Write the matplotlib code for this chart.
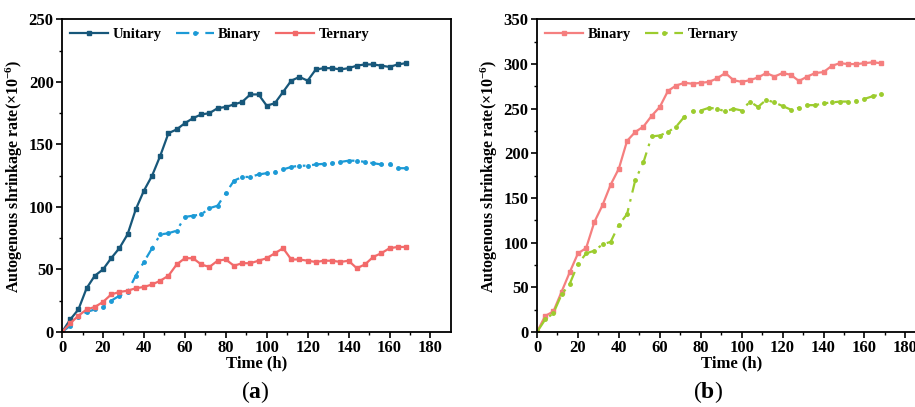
import numpy as np
import matplotlib
matplotlib.use("Agg")
import matplotlib.pyplot as plt

plt.rcParams['font.family'] = ['Liberation Serif', 'DejaVu Serif']
plt.rcParams['font.weight'] = 'bold'
plt.rcParams['mathtext.fontset'] = 'custom'
plt.rcParams['mathtext.rm'] = 'Liberation Serif'
plt.rcParams['mathtext.bf'] = 'Liberation Serif:bold'

t = np.arange(0, 169, 4)

# panel (a)
unitary_a = [0, 10, 18, 35, 45, 50, 59, 67, 78, 98, 113, 125, 141, 159, 162, 167, 171, 174, 175,
             179, 180, 182, 184, 190, 190, 181, 183, 192, 201, 204, 201, 210, 211, 211, 210, 211,
             213, 214, 214, 213, 212, 214, 215]
binary_a = [0, 5, 12, 16, 18, 20, 25, 29, 32, 45, 56, 67, 78, 79, 81, 92, 93, 94, 99, 101, 111,
            121, 124, 124, 126, 127, 128, 130, 132, 133, 133, 134, 134.5, 135, 136, 137, 137, 136,
            135, 134, 134, 131, 131]
ternary_a = [0, 7, 13, 18, 20, 24, 30, 32, 33, 35, 36, 38, 41, 45, 54, 59, 59, 54, 52, 57, 58,
             53, 55, 55, 57, 59, 63, 67, 58, 58, 57, 56, 57, 57, 56, 57, 51, 54, 60, 63, 67, 68, 68]

# panel (b)
binary_b = [0, 18, 23, 45, 67, 88, 94, 123, 142, 165, 183, 214, 224, 230, 242, 252, 270, 276,
            279, 278, 279, 280, 284, 290, 282, 280, 282, 285, 290, 286, 290, 288, 281, 286, 290,
            291, 298, 301, 300, 300, 301, 302, 301]
ternary_b = [0, 14, 21, 42, 54, 76, 88, 91, 98, 101, 120, 132, 170, 190, 219, 220, 224, 230, 241,
             247, 248, 251, 250, 247, 250, 248, 258, 252, 260, 257, 253, 249, 251, 254, 254, 256,
             257, 258, 258, 259, 261, 264, 266]

ylab = r'Autogenous shrinkage rate($\mathbf{\times 10^{-6}}$)'
dashdot = (0, (6, 3, 1.2, 3))

fig = plt.figure(figsize=(9.15, 4.07), dpi=100)
ax1 = fig.add_axes([0.0678, 0.1843, 0.425, 0.768])
ax2 = fig.add_axes([0.5869, 0.1843, 0.425, 0.768])

ax1.plot(t, unitary_a, color='#17577a', lw=1.6, marker='s', ms=2.3, label='Unitary')
ax1.plot(t, binary_a, color='#1c9ad6', lw=1.6, ls=dashdot, marker='o', ms=2.5, label='Binary')
ax1.plot(t, ternary_a, color='#f26a6a', lw=1.6, marker='s', ms=2.3, label='Ternary')
ax1.set_ylim(0, 250)

ax2.plot(t, binary_b, color='#f57f7f', lw=1.6, marker='s', ms=2.3, label='Binary')
ax2.plot(t, ternary_b, color='#9ccc2e', lw=1.6, ls=dashdot, marker='o', ms=2.5, label='Ternary')
ax2.set_ylim(0, 350)

for ax in [ax1, ax2]:
    ax.set_xlim(0, 190)
    ax.set_xticks(np.arange(0, 181, 20))
    ax.set_xticks(np.arange(10, 181, 20), minor=True)
    yt = ax.get_yticks()
    step = yt[1] - yt[0]
    ax.set_yticks(np.arange(step / 2, ax.get_ylim()[1], step), minor=True)
    ax.tick_params(which='major', direction='out', length=4, width=1.2, labelsize=12,
                   top=False, right=False, pad=2)
    ax.tick_params(which='minor', direction='out', length=2.5, width=1.0, top=False, right=False)
    for s in ax.spines.values():
        s.set_linewidth(1.3)
    for tl in ax.get_xticklabels() + ax.get_yticklabels():
        tl.set_fontweight('bold')
    ax.set_xlabel('Time (h)', fontsize=12, fontweight='bold', labelpad=-1)
    ax.set_ylabel(ylab, fontsize=11.5, fontweight='bold', labelpad=3)
    ax.legend(loc='upper left', ncol=3, frameon=False, handlelength=2.6,
              handletextpad=0.3, columnspacing=1.0, borderaxespad=0.15,
              prop={'weight': 'bold', 'size': 10.5})

fig.text(0.2787, 0.022, r'($\mathbf{a}$)', fontsize=17, ha='center', fontweight='normal')
fig.text(0.7738, 0.022, r'($\mathbf{b}$)', fontsize=17, ha='center', fontweight='normal')

fig.savefig('out.png', dpi=100)
